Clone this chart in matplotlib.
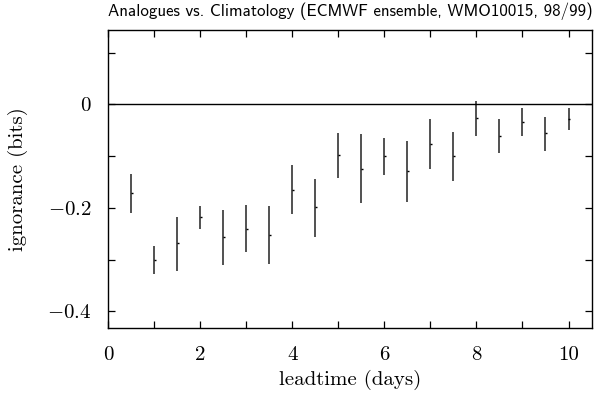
import matplotlib
matplotlib.use("Agg")
import matplotlib.pyplot as plt
from matplotlib.ticker import FixedLocator
import numpy as np

leadtime = [0.5, 1.0, 1.5, 2.0, 2.5, 3.0, 3.5, 4.0, 4.5, 5.0,
            5.5, 6.0, 6.5, 7.0, 7.5, 8.0, 8.5, 9.0, 9.5, 10.0]
center = [-0.171, -0.300, -0.268, -0.218, -0.256, -0.240, -0.252, -0.165, -0.198, -0.098,
          -0.124, -0.100, -0.128, -0.077, -0.100, -0.027, -0.061, -0.034, -0.056, -0.028]
upper = [-0.135, -0.274, -0.217, -0.196, -0.204, -0.195, -0.196, -0.118, -0.144, -0.055,
         -0.058, -0.066, -0.070, -0.029, -0.054, 0.006, -0.028, -0.008, -0.024, -0.007]
lower = [-0.209, -0.327, -0.321, -0.240, -0.310, -0.285, -0.308, -0.212, -0.256, -0.143,
         -0.191, -0.136, -0.189, -0.124, -0.149, -0.061, -0.095, -0.062, -0.090, -0.050]

plt.rcParams['font.family'] = ['cmr10', 'DejaVu Serif']
plt.rcParams['axes.formatter.use_mathtext'] = True
plt.rcParams['mathtext.fontset'] = 'cm'

fig = plt.figure(figsize=(6.02, 3.99), dpi=100)
ax = fig.add_axes([108/602, 1 - 328/399, (592-108)/602, (328-30)/399])

x = np.array(leadtime)
c = np.array(center)
ax.vlines(x, lower, upper, colors='#222222', linewidth=1.1)
ax.plot(x + 0.02, c, linestyle='none', marker='_', markersize=1.5, color='black', markeredgewidth=1.0)
ax.axhline(0, color='black', linewidth=1.0)

ax.set_xlim(0, 10.51)
ax.set_ylim(-0.432, 0.1435)
ax.xaxis.set_major_locator(FixedLocator([0, 2, 4, 6, 8, 10]))
ax.xaxis.set_minor_locator(FixedLocator([1, 3, 5, 7, 9]))
ax.yaxis.set_major_locator(FixedLocator([-0.4, -0.2, 0.0]))
ax.yaxis.set_minor_locator(FixedLocator([-0.3, -0.1, 0.1]))
ax.set_xticklabels(['0', '2', '4', '6', '8', '10'])
ax.set_yticklabels(['$-0.4$', '$-0.2$', '$0$'])
for which in ('major', 'minor'):
    ax.tick_params(axis='both', which=which, direction='in', length=5, width=0.9,
                   top=True, right=True, labelsize=15, color='black')
ax.tick_params(axis='x', which='major', pad=13)
ax.tick_params(axis='y', which='major', pad=12)
for s in ax.spines.values():
    s.set_linewidth(1.0)
    s.set_color('black')

ax.set_xlabel('leadtime (days)', fontsize=15, labelpad=4)
ax.set_ylabel('ignorance (bits)', fontsize=15, labelpad=14)
ax.set_title('Analogues vs. Climatology (ECMWF ensemble, WMO10015, 98/99)',
             fontsize=12.2, family=['cmss10', 'DejaVu Sans'], pad=10)

fig.savefig('out.png', dpi=100)
